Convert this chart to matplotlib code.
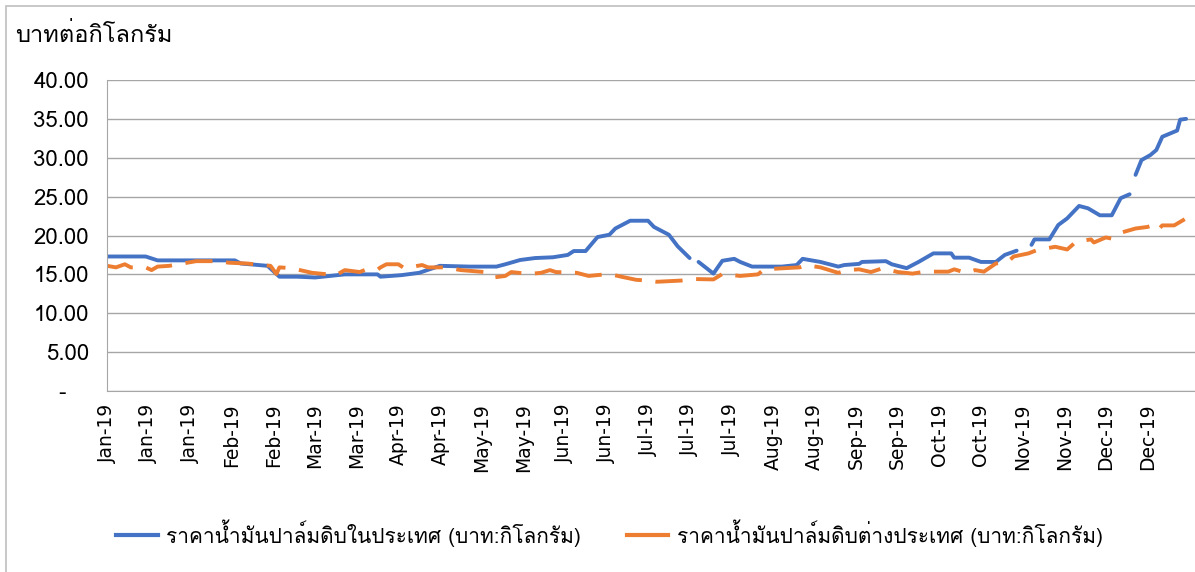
import numpy as np
import pandas as pd
import matplotlib
matplotlib.use("Agg")
import matplotlib.pyplot as plt
import matplotlib.dates as mdates
from matplotlib.lines import Line2D
from matplotlib.patches import Rectangle

# domestic crude palm oil price (baht/kg), NaN = no data
dom_dates = ["2019-01-01", "2019-01-14", "2019-01-18", "2019-02-13", "2019-02-15", "2019-02-24",
             "2019-02-28", "2019-03-06", "2019-03-12", "2019-03-17", "2019-03-22", "2019-04-02",
             "2019-04-03", "2019-04-10", "2019-04-16", "2019-04-23", "2019-05-03", "2019-05-12",
             "2019-05-15", "2019-05-20", "2019-05-25", "2019-05-31", "2019-06-05", "2019-06-07",
             "2019-06-11", "2019-06-15", "2019-06-19", "2019-06-21", "2019-06-26", "2019-07-02",
             "2019-07-04", "2019-07-09", "2019-07-12", "2019-07-16", "2019-07-17", "2019-07-19",
             "2019-07-24", "2019-07-27", "2019-07-31", "2019-08-02", "2019-08-06", "2019-08-16",
             "2019-08-21", "2019-08-23", "2019-08-29", "2019-09-04", "2019-09-06", "2019-09-11",
             "2019-09-12", "2019-09-20", "2019-09-22", "2019-09-27", "2019-10-01", "2019-10-06",
             "2019-10-12", "2019-10-13", "2019-10-18", "2019-10-22", "2019-10-27", "2019-10-30",
             "2019-11-03", "2019-11-05", "2019-11-08", "2019-11-09", "2019-11-14", "2019-11-17",
             "2019-11-20", "2019-11-24", "2019-11-27", "2019-12-01", "2019-12-05", "2019-12-08",
             "2019-12-11", "2019-12-12", "2019-12-13", "2019-12-15", "2019-12-18", "2019-12-20",
             "2019-12-22", "2019-12-27", "2019-12-28", "2019-12-30"]
dom_price = [17.3, 17.3, 16.8, 16.8, 16.4, 16.1,
             14.7, 14.7, 14.6, 14.8, 15.0, 15.0,
             14.7, 14.9, 15.2, 16.1, 16.0, 16.0,
             16.3, 16.85, 17.1, 17.2, 17.5, 18.0,
             18.0, 19.8, 20.1, 20.9, 21.9, 21.9,
             21.1, 20.1, 18.6, 17.1, np.nan, 16.6,
             15.1, 16.75, 17.0, 16.6, 16.0, 16.0,
             16.2, 17.0, 16.6, 16.0, 16.2, 16.35,
             16.6, 16.7, 16.3, 15.8, 16.6, 17.7,
             17.7, 17.15, 17.15, 16.6, 16.6, 17.5,
             18.05, np.nan, 18.8, 19.5, 19.5, 21.35,
             22.2, 23.8, 23.5, 22.6, 22.6, 24.8,
             25.3, np.nan, 27.8, 29.7, 30.35, 31.0,
             32.7, 33.5, 34.9, 35.0]

# foreign crude palm oil price (baht/kg)
for_dates = ["2019-01-01", "2019-01-04", "2019-01-07", "2019-01-09", "2019-01-14", "2019-01-16",
             "2019-01-18", "2019-01-22", "2019-01-31", "2019-02-07", "2019-02-11", "2019-02-17",
             "2019-02-25", "2019-02-27", "2019-02-28", "2019-03-04", "2019-03-11", "2019-03-19",
             "2019-03-22", "2019-03-27", "2019-03-29", "2019-04-02", "2019-04-03", "2019-04-05",
             "2019-04-09", "2019-04-11", "2019-04-17", "2019-04-19", "2019-04-25", "2019-04-30",
             "2019-05-08", "2019-05-11", "2019-05-15", "2019-05-17", "2019-05-23", "2019-05-27",
             "2019-05-30", "2019-06-01", "2019-06-08", "2019-06-12", "2019-06-19", "2019-06-23",
             "2019-06-28", "2019-07-02", "2019-07-05", "2019-07-13", "2019-07-18", "2019-07-24",
             "2019-07-27", "2019-08-02", "2019-08-08", "2019-08-10", "2019-08-17", "2019-08-22",
             "2019-08-24", "2019-08-29", "2019-09-04", "2019-09-07", "2019-09-11", "2019-09-15",
             "2019-09-19", "2019-09-24", "2019-09-29", "2019-10-03", "2019-10-11", "2019-10-13",
             "2019-10-17", "2019-10-20", "2019-10-23", "2019-10-27", "2019-10-31", "2019-11-02",
             "2019-11-07", "2019-11-10", "2019-11-16", "2019-11-20", "2019-11-23", "2019-11-28",
             "2019-11-29", "2019-12-03", "2019-12-05", "2019-12-08", "2019-12-13", "2019-12-17",
             "2019-12-20", "2019-12-21", "2019-12-22", "2019-12-26", "2019-12-30", "2019-12-31"]
for_price = [16.1, 15.9, 16.3, 15.9, 15.9, 15.55,
             16.0, 16.1, 16.7, 16.7, 16.5, 16.4,
             16.1, 15.05, 15.9, 15.8, 15.2, 14.9,
             15.55, 15.3, 15.6, 15.6, 15.9, 16.3,
             16.3, 15.8, 16.2, 15.9, 15.9, 15.55,
             15.3, 14.6, 14.8, 15.3, 15.05, 15.2,
             15.55, 15.3, 15.2, 14.8, 15.05, 14.7,
             14.3, 14.2, 14.05, 14.2, 14.4, 14.35,
             15.05, 14.8, 15.0, 15.65, 15.8, 15.9,
             16.2, 15.9, 15.2, 15.55, 15.65, 15.3,
             15.8, 15.3, 15.1, 15.35, 15.35, 15.65,
             15.2, 15.55, 15.35, 16.4, 16.6, 17.3,
             17.7, 18.15, 18.55, 18.2, 19.2, 19.5,
             19.1, 19.75, 19.6, 20.35, 20.9, 21.1,
             21.45, 20.9, 21.3, 21.3, 22.2, 22.4]

y_ticks = [0, 5, 10, 15, 20, 25, 30, 35, 40]
y_labels = ["-   ", "5.00", "10.00", "15.00", "20.00", "25.00", "30.00", "35.00", "40.00"]
y_title = "บาทต่อกิโลกรัม"
dom_label = "ราคาน้ำมันปาล์มดิบในประเทศ (บาท:กิโลกรัม)"
for_label = "ราคาน้ำมันปาล์มดิบต่างประเทศ (บาท:กิโลกรัม)"

plt.rcParams["font.family"] = ["Loma", "DejaVu Sans"]

blue = "#4472C4"
orange = "#ED7D31"
grid = "#A6A6A6"

fig = plt.figure(figsize=(11.95, 5.72), dpi=100)
ax = fig.add_axes([107 / 1195, 1 - 391 / 572, 1 - 107 / 1195, (391 - 80) / 572])

ax.plot(pd.to_datetime(dom_dates), dom_price, color=blue, lw=2.8, solid_capstyle="round")
ax.plot(pd.to_datetime(for_dates), for_price, color=orange, lw=2.8, dashes=(7, 3.5))

ax.set_ylim(0, 40)
ax.set_yticks(y_ticks)
ax.set_yticklabels(y_labels, fontsize=16)
ax.set_xlim(pd.Timestamp("2019-01-01"), pd.Timestamp("2020-01-02"))
ax.set_xticks(pd.date_range("2019-01-01", periods=26, freq="14D"))
ax.xaxis.set_major_formatter(mdates.DateFormatter("%b-%y"))
plt.setp(ax.get_xticklabels(), rotation=90, fontsize=13.5, family="DejaVu Sans")
ax.tick_params(axis="y", length=0, pad=13)
ax.tick_params(axis="x", length=0, pad=9)
ax.grid(axis="y", color=grid, lw=1)
ax.set_axisbelow(True)
for s in ["top", "right"]:
    ax.spines[s].set_visible(False)
ax.spines["left"].set_color(grid)
ax.spines["bottom"].set_color(grid)

fig.text(15 / 1195, 1 - 35 / 572, y_title, fontsize=17, va="center", ha="left")

# Excel shows both legend keys as solid lines
handles = [Line2D([], [], color=blue, lw=3), Line2D([], [], color=orange, lw=3)]
fig.legend(handles, [dom_label, for_label], loc="center", bbox_to_anchor=(0.51, 1 - 533 / 572),
           ncol=2, frameon=False, fontsize=15, handlelength=2.0, handletextpad=0.4,
           columnspacing=2.2)
fig.patches.append(Rectangle((6 / 1195, -0.1), 1.2, 1.1 - 6 / 572, transform=fig.transFigure,
                             fill=False, edgecolor="#BFBFBF", lw=1.2))

fig.savefig("out.png", dpi=100)
